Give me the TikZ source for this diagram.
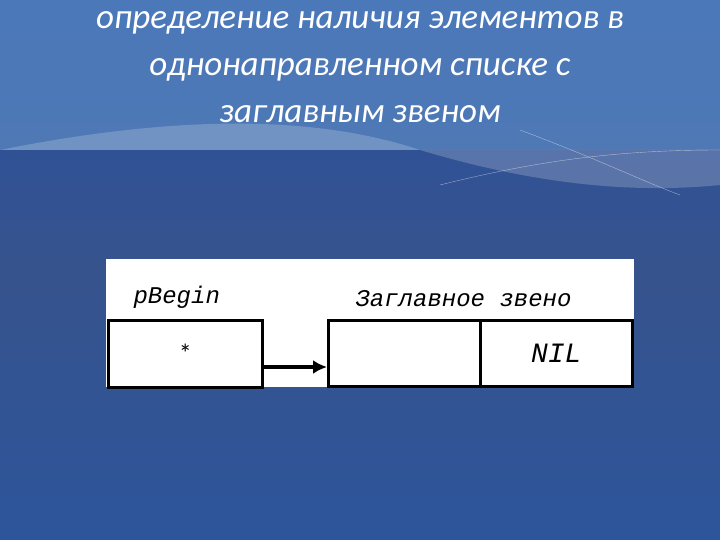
\documentclass[tikz,border=0pt]{standalone}
\usepackage{fontspec}
\usetikzlibrary{arrows.meta}
\setmainfont{Carlito}
\newfontfamily\monof{Liberation Mono}
\definecolor{bgtop}{RGB}{60,120,190}
\definecolor{bgmid}{RGB}{40,80,160}
\definecolor{bgbot}{RGB}{45,85,155}
\begin{document}
\begin{tikzpicture}[x=1pt,y=-1pt,
  cell/.style={draw=black,line width=2.5pt,fill=white},
  lbl/.style={font=\monof\itshape\fontsize{24}{24}\selectfont,anchor=base west}]
\useasboundingbox (0,0) rectangle (720,540);
\shade[top color=bgmid, bottom color=bgbot, middle color=bgmid!80!black!90] (0,0) rectangle (720,540);
\fill[bgtop!80!white,opacity=0.6] (0,0) rectangle (720,150);
\fill[white,opacity=0.2] (0,150) .. controls (150,120) and (300,110) .. (420,150) .. controls (520,180) and (620,195) .. (720,185) -- (720,150) -- (0,150);
\draw[white,opacity=0.5] (440,185) .. controls (540,160) and (620,150) .. (720,150);
\draw[white,opacity=0.5] (520,130) .. controls (600,160) and (640,180) .. (680,195);
\node[text=white,font=\itshape\fontsize{35}{47}\selectfont,align=center,anchor=north] (title) at (360,8)
 {определение наличия элементов в\\однонаправленном списке с\\заглавным звеном};
\node[fill=white,minimum width=528,minimum height=128,inner sep=0,anchor=north west] (panel) at (106,259) {};
\node[cell,minimum width=154,minimum height=67,inner sep=0,anchor=north west] (pb) at (107,319) {\fontsize{26}{26}\selectfont *};
\node[cell,minimum width=152,minimum height=66,inner sep=0,anchor=north west] (hd) at (327,319) {};
\node[cell,minimum width=152,minimum height=66,inner sep=0,anchor=north west] (nil) at (479,319) {\monof\itshape\fontsize{28}{28}\selectfont NIL};
\node[lbl] (l1) at (130,303) {pBegin};
\node[lbl] (l2) at (352,306) {Заглавное звено};
\coordinate (a) at (pb.east |- 0,367);
\coordinate (b) at (hd.west |- 0,367);
\draw[line width=4pt,-{Latex[length=14pt,width=14pt]}] (a) -- (b);
\end{tikzpicture}
\end{document}
